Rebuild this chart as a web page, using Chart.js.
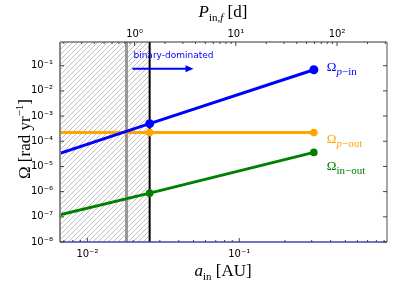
<!DOCTYPE html>
<html>
<head>
<meta charset="utf-8">
<script src="https://cdn.jsdelivr.net/npm/chart.js@4/dist/chart.umd.min.js"></script>
<style>
  html, body { margin: 0; padding: 0; background: #fff; }
  #wrap { width: 399px; height: 285px; }
</style>
</head>
<body>
<div id="wrap"><canvas id="omegaChart" width="399" height="285"></canvas></div>
<script>
// inner semi-major axis [AU] at the curve points (left edge, final a_in, end)
const aIn = [0.0066, 0.0257, 0.31];
const omegaPIn = [3.3e-5, 5.0e-4, 0.069];
const omegaPOut = [2.2e-4, 2.2e-4, 2.2e-4];
const omegaInOut = [1.2e-7, 8.7e-7, 3.6e-5];
const aBinaryDominated = 0.0181;
const aFinal = 0.0257;
const aTicks = [0.01, 0.1];
const pTicks = [1, 10, 100];
const yTicks = [1e-8, 1e-7, 1e-6, 1e-5, 1e-4, 1e-3, 1e-2, 1e-1];
// arrow + text ("binary-dominated") in data coords
const arrowA = [0.0198, 0.05];
const arrowY = 0.076;

const aMin = 0.0066, aMax = 0.94;
const yMin = 1e-8, yMax = 0.87;
const kepler = 342; // P[d] = k * a^1.5
const pMin = kepler * Math.pow(aMin, 1.5), pMax = kepler * Math.pow(aMax, 1.5);

const SUP = {'-': '\u207B', '0': '\u2070', '1': '\u00B9', '2': '\u00B2', '3': '\u00B3',
  '4': '\u2074', '5': '\u2075', '6': '\u2076', '7': '\u2077', '8': '\u2078', '9': '\u2079'};
const pow10 = v => '10' + String(Math.round(Math.log10(v))).split('').map(c => SUP[c]).join('');

// hatch pattern for the excluded region
function hatch() {
	const c = document.createElement('canvas');
	c.width = 5; c.height = 5;
	const g = c.getContext('2d');
	g.strokeStyle = '#b0b0b0';
	g.lineWidth = 0.8;
	[[0, 5, 5, 0], [-1, 1, 1, -1], [4, 6, 6, 4]].forEach(([x0, y0, x1, y1]) => {
		g.beginPath(); g.moveTo(x0, y0); g.lineTo(x1, y1); g.stroke();
	});
	return g.createPattern(c, 'repeat');
}

const pts = ys => aIn.map((a, i) => ({x: a, y: ys[i]}));

function rich(ctx, parts, x, y, align) {
	let w = 0;
	parts.forEach(p => { ctx.font = p.f; w += ctx.measureText(p.t).width; });
	let cx = align === 'center' ? x - w / 2 : x;
	parts.forEach(p => {
		ctx.font = p.f;
		ctx.fillText(p.t, cx, y + (p.dy || 0));
		cx += ctx.measureText(p.t).width;
	});
}

const SERIF = '"Liberation Serif", "DejaVu Serif", serif';

const overlay = {
	id: 'overlay',
	afterDatasetsDraw(chart) {
		const ctx = chart.ctx, x = chart.scales.x, y = chart.scales.y;
		ctx.save();
		// arrow
		const x0 = x.getPixelForValue(arrowA[0]), x1 = x.getPixelForValue(arrowA[1]);
		const ya = y.getPixelForValue(arrowY);
		ctx.strokeStyle = '#0000ff'; ctx.fillStyle = '#0000ff'; ctx.lineWidth = 2;
		ctx.beginPath(); ctx.moveTo(x0, ya); ctx.lineTo(x1 - 5, ya); ctx.stroke();
		ctx.beginPath(); ctx.moveTo(x1, ya); ctx.lineTo(x1 - 8, ya - 3.5); ctx.lineTo(x1 - 8, ya + 3.5); ctx.closePath(); ctx.fill();
		ctx.font = '9px "DejaVu Sans", sans-serif';
		ctx.textBaseline = 'middle';
		ctx.fillText('binary-dominated', x0 + 1, ya - 13);
		ctx.textBaseline = 'alphabetic';
		// curve labels
		const xe = x.getPixelForValue(aIn[2]) + 13;
		const labels = [
			{sub: 'p', rest: '\u2212in', c: '#0000ff', v: omegaPIn[2], dy: 1},
			{sub: 'p', rest: '\u2212out', c: '#ffa500', v: omegaPOut[2], dy: 10},
			{sub: '', rest: 'in\u2212out', c: '#008000', v: omegaInOut[2], dy: 18}
		];
		labels.forEach(l => {
			ctx.fillStyle = l.c;
			const yb = y.getPixelForValue(l.v) + l.dy;
			rich(ctx, [
				{t: '\u03A9', f: '13px ' + SERIF},
				{t: l.sub, f: 'italic 11px ' + SERIF, dy: 4},
				{t: l.rest, f: '11px ' + SERIF, dy: 4}
			], xe, yb);
		});
		ctx.restore();
	},
	afterDraw(chart) {
		const ctx = chart.ctx, a = chart.chartArea;
		const x = chart.scales.x, x2 = chart.scales.x2, y = chart.scales.y;
		ctx.save();
		// spines
		const line = (c, w, xa, ya, xb, yb) => {
			ctx.strokeStyle = c; ctx.lineWidth = w;
			ctx.beginPath(); ctx.moveTo(xa, ya); ctx.lineTo(xb, yb); ctx.stroke();
		};
		line('#333', 1, a.left, a.top, a.right, a.top);
		line('#888', 1.5, a.right, a.top, a.right, a.bottom);
		line('#888', 2, a.left, a.top, a.left, a.bottom);
		line('#4444b0', 1.5, a.left, a.bottom, a.right, a.bottom);
		// inward ticks
		const minors = (lo, hi) => {
			const out = [];
			for (let n = -4; n <= 3; n++) for (let k = 1; k <= 9; k++) {
				const v = k * Math.pow(10, n);
				if (v > lo && v < hi) out.push([v, k === 1]);
			}
			return out;
		};
		minors(aMin, aMax).forEach(([v, maj]) => {
			const px = x.getPixelForValue(v);
			line('#444', 1, px, a.bottom, px, a.bottom - (maj ? 4 : 2));
		});
		minors(pMin, pMax).forEach(([v, maj]) => {
			const px = x2.getPixelForValue(v);
			line('#444', 1, px, a.top, px, a.top + (maj ? 4 : 2));
		});
		yTicks.forEach(v => {
			const py = y.getPixelForValue(v);
			line('#444', 1, a.left, py, a.left + 4, py);
			line('#444', 1, a.right, py, a.right - 4, py);
		});
		// axis titles
		ctx.fillStyle = '#000';
		rich(ctx, [
			{t: 'P', f: 'italic 17px ' + SERIF},
			{t: 'in,', f: '11px ' + SERIF, dy: 4},
			{t: 'f', f: 'italic 11px ' + SERIF, dy: 4},
			{t: ' [d]', f: '17px ' + SERIF}
		], 223, 17, 'center');
		rich(ctx, [
			{t: 'a', f: 'italic 17px ' + SERIF},
			{t: 'in', f: '11px ' + SERIF, dy: 4},
			{t: ' [AU]', f: '17px ' + SERIF}
		], 223, 276, 'center');
		ctx.translate(30, 139);
		ctx.rotate(-Math.PI / 2);
		rich(ctx, [
			{t: '\u03A9 [rad yr', f: '17px ' + SERIF},
			{t: '\u22121', f: '11px ' + SERIF, dy: -7},
			{t: ']', f: '17px ' + SERIF}
		], 0, 0, 'center');
		ctx.restore();
	}
};

const tickFont = {family: '"DejaVu Sans", sans-serif', size: 10};
const logAxis = (pos, lo, hi, list, size, pad) => ({
	type: 'logarithmic',
	position: pos,
	min: lo,
	max: hi,
	afterBuildTicks: s => { s.ticks = list.map(v => ({value: v})); },
	afterFit: s => { if (pos === 'left') s.width = size; else s.height = size; },
	grid: {display: false, drawTicks: false},
	border: {display: false},
	ticks: {
		autoSkip: false, maxRotation: 0, padding: pad,
		color: '#000', font: tickFont,
		callback: v => pow10(v)
	}
});

new Chart(document.getElementById('omegaChart'), {
	type: 'line',
	data: {
		datasets: [
			{data: pts(omegaPIn), borderColor: '#0000ff', backgroundColor: '#0000ff', borderWidth: 3,
				pointRadius: [0, 4.5, 4.5], pointBorderWidth: 0},
			{data: pts(omegaPOut), borderColor: '#ffa500', backgroundColor: '#ffa500', borderWidth: 3,
				pointRadius: [0, 3.8, 3.8], pointBorderWidth: 0},
			{data: pts(omegaInOut), borderColor: '#008000', backgroundColor: '#008000', borderWidth: 3,
				pointRadius: [0, 3.8, 3.8], pointBorderWidth: 0},
			{data: [{x: aFinal, y: yMin}, {x: aFinal, y: yMax}], borderColor: '#000', borderWidth: 2, pointRadius: 0},
			{data: [{x: aBinaryDominated, y: yMin}, {x: aBinaryDominated, y: yMax}], borderColor: '#999', borderWidth: 3, pointRadius: 0},
			{data: [{x: aMin, y: yMax}, {x: aFinal, y: yMax}], borderWidth: 0, pointRadius: 0,
				fill: 'start', backgroundColor: hatch()}
		]
	},
	options: {
		responsive: false,
		animation: false,
		layout: {padding: {left: 0, right: 12, top: 0, bottom: 0}},
		plugins: {legend: {display: false}, tooltip: {enabled: false}},
		scales: {
			x: logAxis('bottom', aMin, aMax, aTicks, 43, 6),
			x2: logAxis('top', pMin, pMax, pTicks, 42, 2),
			y: logAxis('left', yMin, yMax, yTicks, 60, 7)
		}
	},
	plugins: [overlay]
});
</script>
</body>
</html>
